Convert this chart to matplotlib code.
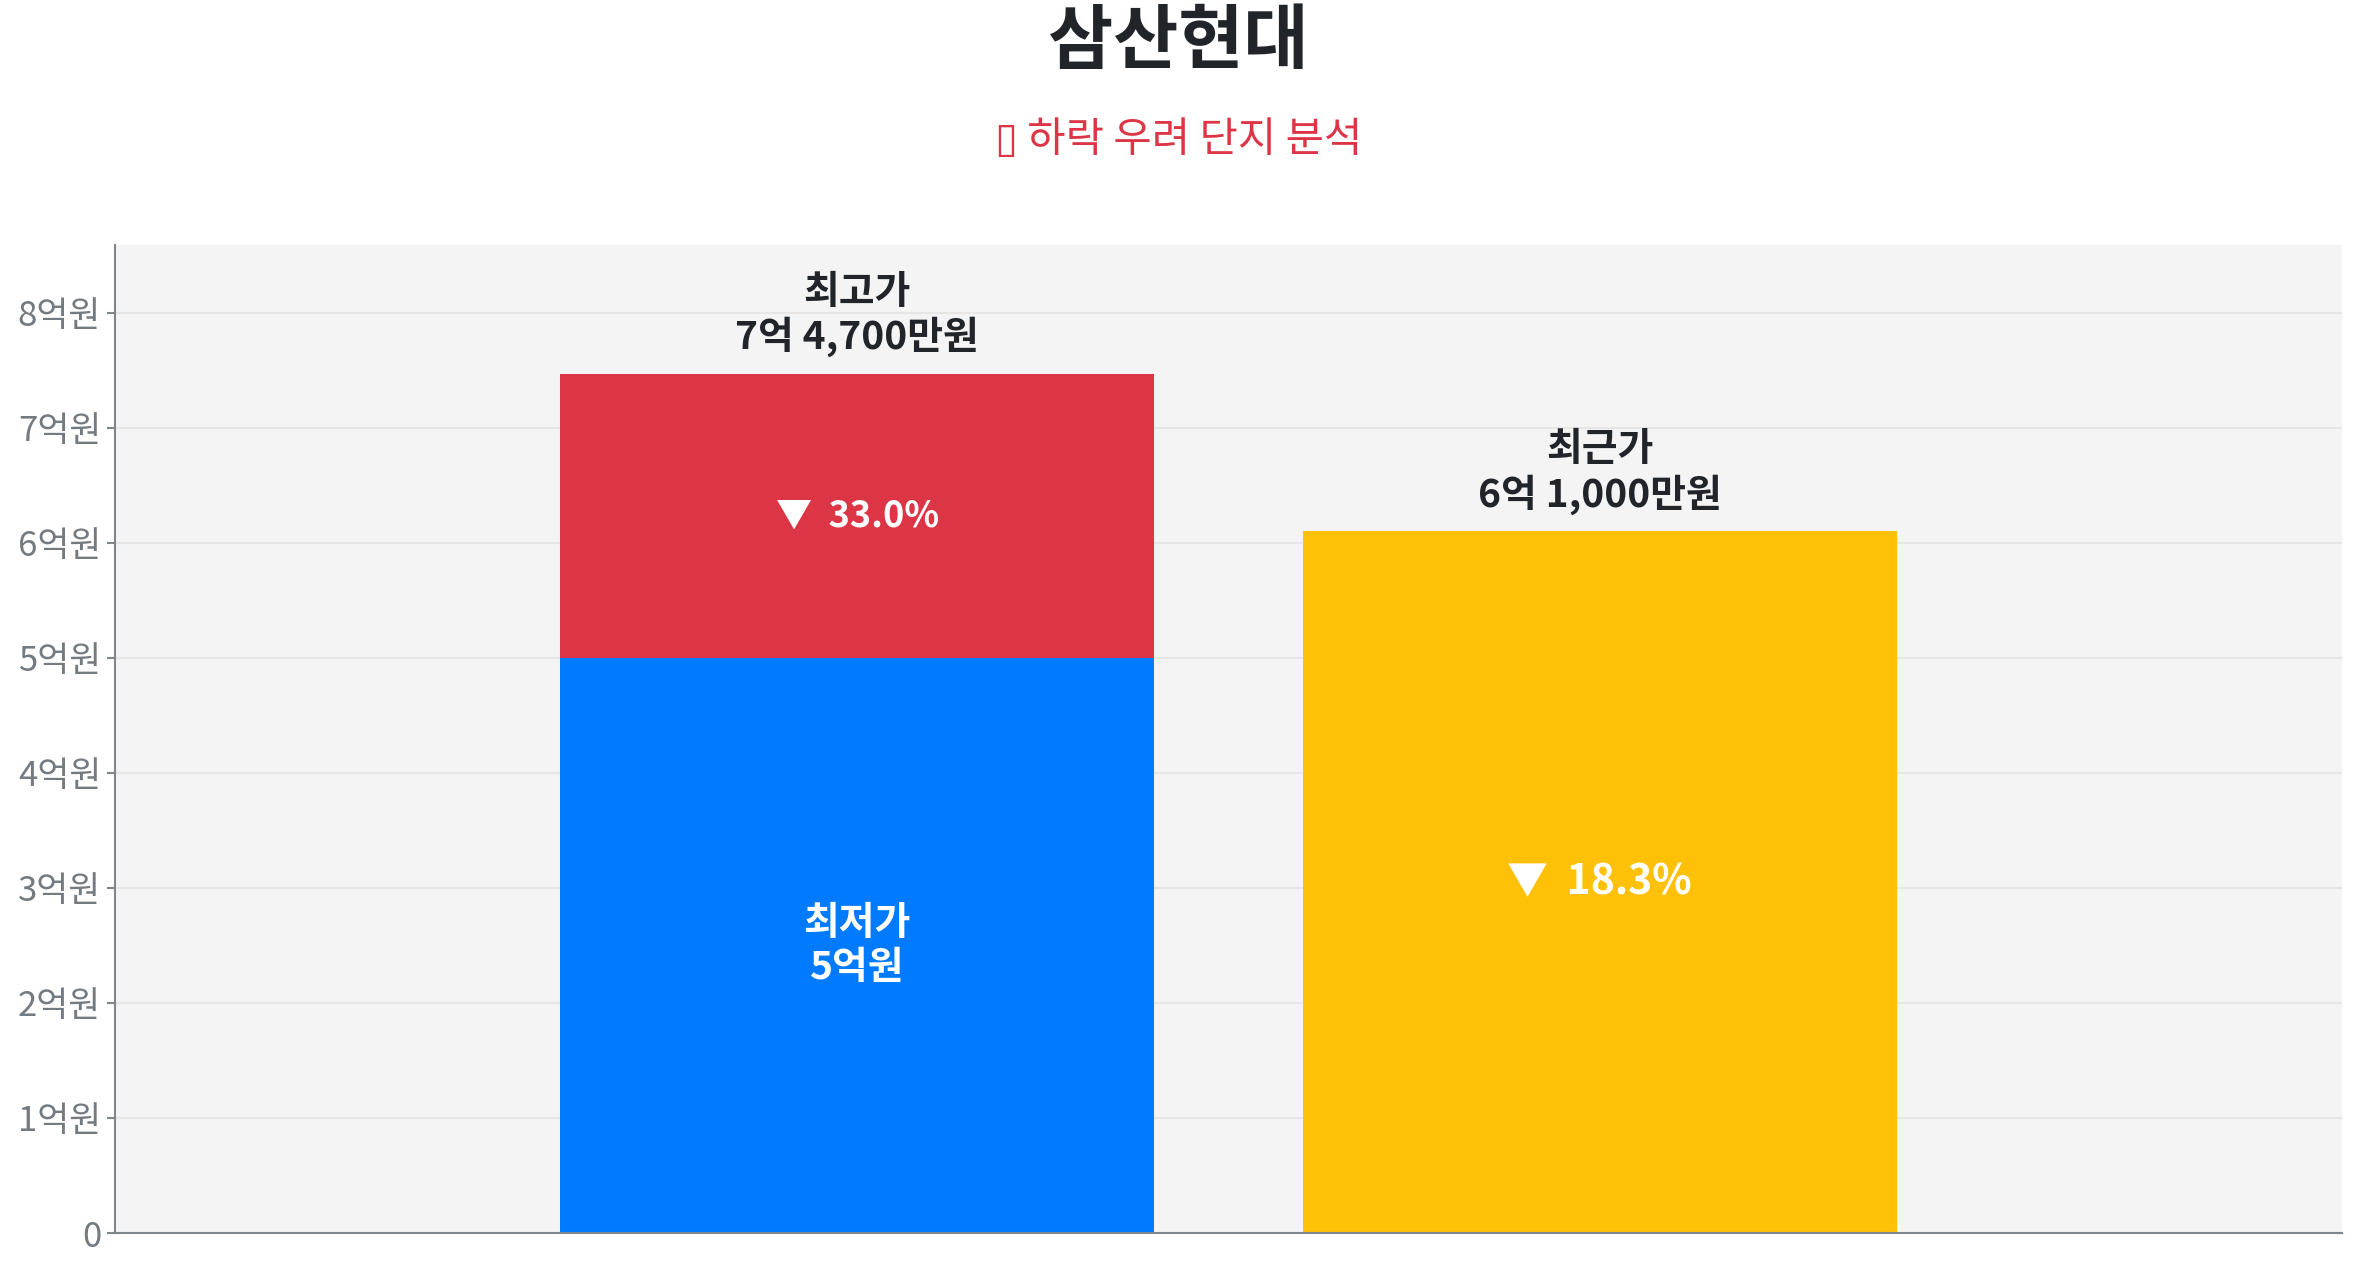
import math
import matplotlib
matplotlib.use('Agg')
import matplotlib.pyplot as plt
from matplotlib.ticker import FuncFormatter, MultipleLocator

plt.rcParams['font.family'] = ['Noto Sans CJK KR', 'DejaVu Sans']

# data (won)
complex_name = '삼산현대'
subtitle = '▯ 하락 우려 단지 분석'
max_price = 747000000
min_price = 500000000
recent_price = 610000000
positions = [0, 1]

RED = '#dc3545'
BLUE = '#007bff'
YELLOW = '#ffc107'
DARK = '#212529'
GREY = '#6c757d'


def fmt_won(v):
    eok = int(v // 100000000)
    man = int((v % 100000000) // 10000)
    if man:
        return f'{eok}억 {man:,}만원'
    return f'{eok}억원'


def fmt_tick(v, pos):
    if v == 0:
        return '0'
    return f'{v / 1e8:.0f}억원'


def drop_pct(price):
    # truncated to one decimal, as the source shows it
    return math.floor((max_price - price) / max_price * 1000) / 10


fig = plt.figure(figsize=(23.57, 12.68), dpi=100)
ax = fig.add_axes([0.0488, 0.0276, 0.9448, 0.7792])
ax.set_facecolor('#f4f4f4')

w = 0.8
# first bar: lowest price + gap up to the highest
ax.bar(positions[0], min_price, width=w, color=BLUE, zorder=2)
ax.bar(positions[0], max_price - min_price, bottom=min_price, width=w, color=RED, zorder=2)
# second bar: recent price
ax.bar(positions[1], recent_price, width=w, color=YELLOW, zorder=2)

ax.text(positions[0], (max_price + min_price) / 2, f'▼  {drop_pct(min_price):.1f}%',
        ha='center', va='center', color='white', fontsize=26, fontweight='bold', zorder=3)
ax.text(positions[0], min_price / 2, f'최저가\n{fmt_won(min_price)}',
        ha='center', va='center', color='white', fontsize=28, fontweight='bold',
        linespacing=1.15, zorder=3)
ax.text(positions[1], recent_price / 2, f'▼  {drop_pct(recent_price):.1f}%',
        ha='center', va='center', color='white', fontsize=29.5, fontweight='bold', zorder=3)

ax.annotate(f'최고가\n{fmt_won(max_price)}', (positions[0], max_price),
            xytext=(0, 12), textcoords='offset points', ha='center', va='bottom',
            color=DARK, fontsize=28, fontweight='bold', linespacing=1.15)
ax.annotate(f'최근가\n{fmt_won(recent_price)}', (positions[1], recent_price),
            xytext=(0, 12), textcoords='offset points', ha='center', va='bottom',
            color=DARK, fontsize=28, fontweight='bold', linespacing=1.15)

ax.set_xlim(-1, 2)
ax.set_ylim(0, max_price * 1.15)
ax.yaxis.set_major_locator(MultipleLocator(100000000))
ax.yaxis.set_major_formatter(FuncFormatter(fmt_tick))
ax.set_xticks([])
ax.grid(axis='y', color='#e6e6e6', linewidth=1.5, zorder=1)
ax.set_axisbelow(True)

for s in ['top', 'right']:
    ax.spines[s].set_visible(False)
for s in ['left', 'bottom']:
    ax.spines[s].set_color('#7f868c')
    ax.spines[s].set_linewidth(1.5)
ax.tick_params(axis='y', colors='#7f868c', labelcolor='#737a80', labelsize=25, length=6, width=1.5, pad=4)

fig.text(0.5, 0.967, complex_name, ha='center', va='center', fontsize=51,
         fontweight='bold', color=DARK)
fig.text(0.5, 0.889, subtitle, ha='center', va='center', fontsize=30, color=RED)

fig.savefig('out.png', dpi=100, facecolor='white')
